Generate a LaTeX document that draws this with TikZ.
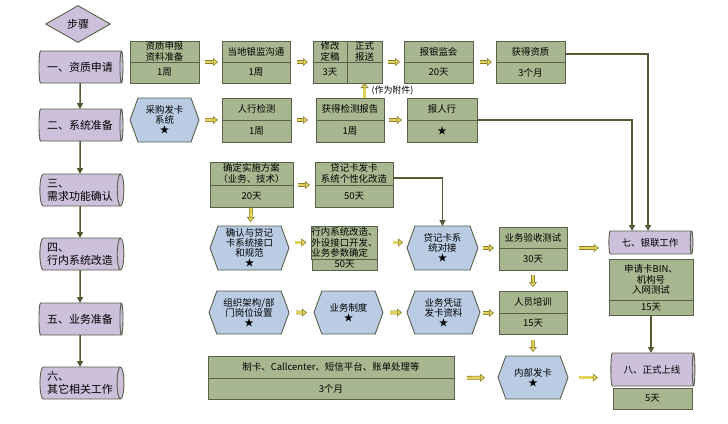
\documentclass[tikz,border=0pt]{standalone}
\usepackage{fontspec}
\setmainfont{Noto Sans CJK SC}
\usepackage{tikz}
\usetikzlibrary{positioning,shapes.geometric,shapes.symbols,arrows.meta}

\definecolor{lav}{HTML}{CCC0DA}
\definecolor{stagegreen}{HTML}{A8B78F}
\definecolor{taskblue}{HTML}{B9CCE4}
\definecolor{edgegray}{HTML}{5A5F4A}
\definecolor{flowcol}{HTML}{535B34}
\definecolor{arrowfill}{HTML}{E2D35A}
\definecolor{arrowedge}{HTML}{8A7E2C}

\tikzset{
  stagebox/.style={draw=edgegray, fill=stagegreen, line width=0.9bp, inner sep=0pt, outer sep=0pt,
    align=center, font=\fontsize{9.5}{10.5}\selectfont},
  taskhex/.style={signal, signal to=west and east, signal pointer angle=140, draw=edgegray, fill=taskblue,
    line width=0.9bp, inner sep=0pt, outer sep=0pt, align=center, font=\fontsize{9.5}{10}\selectfont},
  phasecyl/.style={cylinder, aspect=0.3, draw=edgegray, fill=lav, line width=0.9bp, inner sep=0pt,
    outer sep=0pt, align=left, font=\fontsize{11}{13}\selectfont},
  fatarrow/.style={draw=arrowedge, line width=0.6bp, double=arrowfill, double distance=2.6bp,
    -{Triangle[length=5bp, width=8bp, fill=arrowfill]}, shorten <=6bp, shorten >=4bp},
  flowline/.style={draw=flowcol, line width=1.5bp, -{Triangle[length=6bp, width=6bp]}}
}

\begin{document}
\begin{tikzpicture}[x=1bp, y=-1bp]
      \useasboundingbox (0,0) rectangle (728,423);
      % left column: steps
      \node[diamond, draw=edgegray, fill=lav, line width=0.9bp, inner sep=0pt, minimum width=65bp,
            minimum height=37bp, font=\fontsize{11}{13}\selectfont] (buzhou) at (78,24) {步骤};
      \node[phasecyl, minimum height=84bp, minimum width=32bp] (p1) at (80,67) {一、资质申请};
      \node[phasecyl, minimum height=84bp, minimum width=32bp] (p2) at (80,125) {二、系统准备};
      \node[phasecyl, minimum height=84bp, minimum width=32bp] (p3) at (80,190) {三、\\需求功能确认};
      \node[phasecyl, minimum height=84bp, minimum width=32bp] (p4) at (80,254) {四、\\行内系统改造};
      \node[phasecyl, minimum height=84bp, minimum width=32bp] (p5) at (80,319) {五、业务准备};
      \node[phasecyl, minimum height=84bp, minimum width=32bp] (p6) at (80,383) {六、\\其它相关工作};
      \draw[flowline] (p1) edge (p2) (p2) edge (p3) (p3) edge (p4) (p4) edge (p5) (p5) edge (p6);

      % row 1
      \node[stagebox, minimum width=69bp, minimum height=21bp] (zzt) at (164.5,51.5) {资质申报\\资料准备};
      \node[stagebox, minimum width=69bp, minimum height=21bp, below=0pt of zzt] (zzb) {1周};
      \node[stagebox, minimum width=68bp, minimum height=21bp] (ydt) at (256,51.5) {当地银监沟通};
      \node[stagebox, minimum width=68bp, minimum height=21bp, below=0pt of ydt] (ydb) {1周};
      \node[stagebox, minimum width=34bp, minimum height=21bp] (xgt) at (330,51.5) {修改\\定稿};
      \node[stagebox, minimum width=35bp, minimum height=21bp, right=0pt of xgt] (zst) {正式\\报送};
      \node[stagebox, minimum width=34bp, minimum height=21bp, below=0pt of xgt] (xgb) {3天};
      \node[stagebox, minimum width=35bp, minimum height=21bp, below=0pt of zst] (zsb) {};
      \node[stagebox, minimum width=69bp, minimum height=21bp] (bjt) at (438.5,51.5) {报银监会};
      \node[stagebox, minimum width=69bp, minimum height=21bp, below=0pt of bjt] (bjb) {20天};
      \node[stagebox, minimum width=69bp, minimum height=21bp] (hzt) at (530.5,51.5) {获得资质};
      \node[stagebox, minimum width=69bp, minimum height=21bp, below=0pt of hzt] (hzb) {3个月};
      \draw[fatarrow] (zzt.south east) -- (ydt.south west);
      \draw[fatarrow, shorten <=7bp, shorten >=5bp] (ydt.south east) -- (xgt.south west);
      \draw[fatarrow] (zst.south east) -- (bjt.south west);
      \draw[fatarrow, shorten <=7bp] (bjt.south east) -- (hzt.south west);

      % row 2
      \node[taskhex, minimum width=69bp, minimum height=44bp] (cg) at (164.5,120) {采购发卡\\系统\\★};
      \node[stagebox, minimum width=69bp, minimum height=22bp] (rht) at (256.5,109) {人行检测};
      \node[stagebox, minimum width=69bp, minimum height=22bp, below=0pt of rht] (rhb) {1周};
      \node[stagebox, minimum width=68bp, minimum height=22bp] (hjt) at (350,109) {获得检测报告};
      \node[stagebox, minimum width=68bp, minimum height=22bp, below=0pt of hjt] (hjb) {1周};
      \node[stagebox, minimum width=70bp, minimum height=22bp] (brt) at (442,109) {报人行};
      \node[stagebox, minimum width=70bp, minimum height=22bp, below=0pt of brt] (brb) {★};
      \draw[fatarrow] (cg.east) -- (rht.south west);
      \draw[fatarrow, shorten >=8bp] (rht.south east) -- (hjt.south west);
      \draw[fatarrow, shorten <=5bp, shorten >=5bp] (hjt.south east) -- (brt.south west);
      \draw[fatarrow, shorten <=0pt, shorten >=0pt] (hjt.north -| zsb.south) -- (zsb.south);
      \node[anchor=west, font=\fontsize{9}{10}\selectfont] (fujian) at (368,91) {(作为附件)};

      % row 3
      \node[stagebox, minimum width=83bp, minimum height=23bp] (sst) at (251.5,173.5) {确定实施方案\\（业务、技术）};
      \node[stagebox, minimum width=83bp, minimum height=22bp, below=0pt of sst] (ssb) {20天};
      \node[stagebox, minimum width=78bp, minimum height=23bp] (gxt) at (354,173.5) {贷记卡发卡\\系统个性化改造};
      \node[stagebox, minimum width=78bp, minimum height=22bp, below=0pt of gxt] (gxb) {50天};
      \draw[fatarrow, shorten <=5bp, shorten >=5bp] (sst.south east) -- (gxt.south west);

      % row 4
      \node[taskhex, minimum width=79bp, minimum height=44bp] (qr) at (249.5,248) {确认与贷记\\卡系统接口\\和规范\\★};
      \node[stagebox, minimum width=65bp, minimum height=33bp, align=left] (hnt) at (344.5,242.5) {行内系统改造、\\外设接口开发、\\业务参数确定};
      \node[stagebox, minimum width=65bp, minimum height=11bp, below=0pt of hnt] (hnb) {50天};
      \node[taskhex, minimum width=71bp, minimum height=44bp] (dj) at (442.5,248) {贷记卡系\\统对接\\★};
      \node[stagebox, minimum width=68bp, minimum height=21bp] (yst) at (533,237.5) {业务验收测试};
      \node[stagebox, minimum width=68bp, minimum height=22bp, below=0pt of yst] (ysb) {30天};
      \node[phasecyl, minimum height=84bp, minimum width=23bp, font=\fontsize{9.5}{11}\selectfont] (yl) at (650,242.5) {七、银联工作};
      \node[stagebox, minimum width=84bp, minimum height=41bp] (sqt) at (651,279.5) {申请卡BIN、\\机构号\\入网测试};
      \node[stagebox, minimum width=84bp, minimum height=15bp, below=0pt of sqt] (sqb) {15天};
      \draw[fatarrow, shorten <=1bp, shorten >=4bp] (ssb) -- (qr);
      \draw[fatarrow, shorten >=5bp] (qr.east |- hnt.west) -- (hnt.west);
      \draw[fatarrow, shorten <=15bp] (hnt.east) -- (hnt.east -| dj.west);
      \draw[fatarrow, shorten <=5bp, shorten >=5bp] (dj.east |- yst.south) -- (yst.south west);
      \draw[fatarrow, shorten <=12bp, shorten >=10bp] (yst.south east) -- (yst.south east -| yl.west);

      % row 5
      \node[taskhex, minimum width=80bp, minimum height=43bp] (zj) at (249,312.5) {组织架构/部\\门岗位设置\\★};
      \node[taskhex, minimum width=69bp, minimum height=43bp] (zd) at (348.5,312.5) {业务制度\\★};
      \node[taskhex, minimum width=73bp, minimum height=43bp] (pz) at (443.5,312.5) {业务凭证\\发卡资料\\★};
      \node[stagebox, minimum width=68bp, minimum height=22bp] (rpt) at (533,302) {人员培训};
      \node[stagebox, minimum width=68bp, minimum height=21bp, below=0pt of rpt] (rpb) {15天};
      \draw[fatarrow, shorten <=7bp, shorten >=7bp] (zj) -- (zd);
      \draw[fatarrow, shorten <=7bp, shorten >=5bp] (zd) -- (pz);
      \draw[fatarrow, shorten <=3bp, shorten >=5bp] (pz.east |- rpt.south) -- (rpt.south west);
      \draw[fatarrow, shorten <=5bp] (ysb) -- (rpt);

      % row 6
      \node[stagebox, minimum width=246bp, minimum height=22bp] (zkt) at (331,367) {制卡、Callcenter、短信平台、账单处理等};
      \node[stagebox, minimum width=246bp, minimum height=21bp, below=0pt of zkt] (zkb) {3个月};
      \node[taskhex, minimum width=70bp, minimum height=43bp] (nb) at (533,377.5) {内部发卡\\★};
      \node[phasecyl, minimum height=84bp, minimum width=33bp, font=\fontsize{9.5}{11}\selectfont] (zx) at (652,369.5) {八、正式上线};
      \node[stagebox, minimum width=79bp, minimum height=21bp] (wt) at (652.5,398.5) {5天};
      \draw[fatarrow, shorten <=6bp] (rpb) -- (nb);
      \draw[fatarrow, shorten <=13bp, shorten >=13bp] (zkt.south east) -- (nb.west);
      \draw[fatarrow, shorten <=11bp, shorten >=13bp] (nb.east) -- (nb.east -| zx.west);

      % long connectors
      \draw[flowline] ([yshift=-2.5bp]hzt.east) -| ([xshift=-2bp]yl.north);
      \draw[flowline] (brt.south east) -| ([xshift=-18bp]yl.north);
      \draw[flowline] ([yshift=-4.5bp]gxt.east) -| (dj.north);
      \draw[flowline] (sqb.south) -- (sqb.south |- zx.north);
\end{tikzpicture}
\end{document}
